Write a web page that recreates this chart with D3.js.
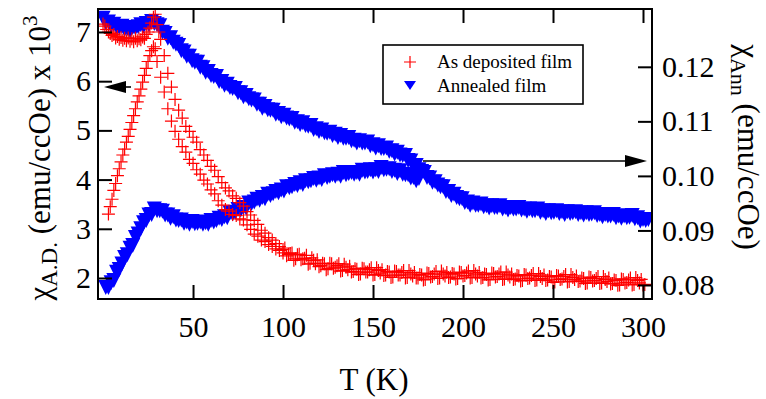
<!DOCTYPE html>
<html><head><meta charset="utf-8">
<script src="https://cdn.jsdelivr.net/npm/d3@7"></script>
<style>
body{margin:0;background:#fff}
svg{display:block}
text{font-family:'Liberation Serif','Times New Roman',serif;fill:#000}
</style>
</head><body>
<svg id="c" width="766" height="399"></svg>
<script>
// ---------- data ----------
const xTicks = [50, 100, 150, 200, 250, 300];
const leftTicks = [2, 3, 4, 5, 6, 7];
const rightTicks = [0.08, 0.09, 0.10, 0.11, 0.12];
const legendLabels = ["As deposited film", "Annealed film"];
const xTitle = "T (K)";

// Annealed film, upper branch [T (K), chi (emu/ccOe)]  (right axis)
const annealedUpper = [
[0,.1292],[1.5,.1284],[3,.1285],[4.5,.1278],[6,.1281],[7.5,.1276],[9,.1275],[10.5,.1277],[12,.1271],[13.5,.1273],
[15,.1269],[16.5,.1275],[18,.1274],[19.5,.1276],[21,.1280],[22.5,.1277],[24,.1282],[25.5,.1280],[27,.1286],[28.5,.1282],
[30,.1280],[31.5,.1278],[33,.1266],[34.5,.1264],[36,.1255],[37.5,.1256],[39,.1248],[40.5,.1244],[42,.1242],[43.5,.1232],
[45,.1230],[46.5,.1222],[48,.1222],[49.5,.1214],[51,.1211],[52.5,.1211],[54,.1202],[55.5,.1201],[57,.1193],[58.5,.1194],
[60,.1187],[61.5,.1185],[63,.1185],[64.5,.1176],[66,.1176],[67.5,.1169],[69,.1171],[70.5,.1165],[72,.1163],[73.5,.1163],
[75,.1155],[76.5,.1155],[78,.1148],[79.5,.1150],[81,.1144],[82.5,.1142],[84,.1142],[85.5,.1134],[87,.1134],[88.5,.1127],
[90,.1130],[91.5,.1124],[93,.1123],[94.5,.1123],[96,.1116],[97.5,.1117],[99,.1111],[100.5,.1114],[102,.1109],[103.5,.1107],
[105,.1108],[106.5,.1101],[108,.1102],[109.5,.1097],[111,.1100],[112.5,.1095],[114,.1094],[115.5,.1095],[117,.1088],[118.5,.1089],
[120,.1084],[121.5,.1087],[123,.1082],[124.5,.1081],[126,.1083],[127.5,.1077],[129,.1079],[130.5,.1073],[132,.1077],[133.5,.1072],
[135,.1072],[136.5,.1073],[138,.1067],[139.5,.1068],[141,.1063],[142.5,.1067],[144,.1063],[145.5,.1063],[147,.1065],[148.5,.1058],
[150,.1060],[151.5,.1054],[153,.1058],[154.5,.1053],[156,.1053],[157.5,.1054],[159,.1048],[160.5,.1049],[162,.1043],[163.5,.1046],
[165,.1041],[166.5,.1040],[168,.1040],[169.5,.1031],[171,.1030],[172.5,.1021],[174,.1022],[175.5,.1014],[177,.1011],[178.5,.1009],
[180,.1000],[181.5,.0999],[183,.0991],[184.5,.0992],[186,.0986],[187.5,.0983],[189,.0983],[190.5,.0974],[192,.0974],[193.5,.0967],
[195,.0969],[196.5,.0963],[198,.0961],[199.5,.0961],[201,.0954],[202.5,.0955],[204,.0949],[205.5,.0953],[207,.0949],[208.5,.0949],
[210,.0951],[211.5,.0946],[213,.0948],[214.5,.0944],[216,.0948],[217.5,.0945],[219,.0945],[220.5,.0948],[222,.0942],[223.5,.0945],
[225,.0940],[226.5,.0945],[228,.0942],[229.5,.0942],[231,.0945],[232.5,.0940],[234,.0942],[235.5,.0938],[237,.0942],[238.5,.0939],
[240,.0939],[241.5,.0942],[243,.0936],[244.5,.0939],[246,.0934],[247.5,.0939],[249,.0935],[250.5,.0936],[252,.0939],[253.5,.0934],
[255,.0937],[256.5,.0932],[258,.0937],[259.5,.0934],[261,.0935],[262.5,.0937],[264,.0932],[265.5,.0935],[267,.0931],[268.5,.0935],
[270,.0932],[271.5,.0933],[273,.0935],[274.5,.0930],[276,.0932],[277.5,.0928],[279,.0932],[280.5,.0929],[282,.0929],[283.5,.0932],
[285,.0926],[286.5,.0929],[288,.0925],[289.5,.0929],[291,.0926],[292.5,.0927],[294,.0930],[295.5,.0924],[297,.0926],[298.5,.0920],
[300,.0923],[301.5,.0921],[303,.0923]
];
// Annealed film, lower branch (right axis)
const annealedLower = [
[1.5,.0798],[3,.0798],[4.5,.0807],[6,.0811],[7.5,.0826],[9,.0831],[10.5,.0841],[12,.0853],[13.5,.0858],[15,.0870],
[16.5,.0875],[18,.0890],[19.5,.0896],[21,.0906],[22.5,.0917],[24,.0921],[25.5,.0931],[27,.0932],[28.5,.0942],[30,.0939],
[31.5,.0939],[33,.0938],[34.5,.0931],[36,.0931],[37.5,.0925],[39,.0928],[40.5,.0922],[42,.0921],[43.5,.0922],[45,.0916],
[46.5,.0918],[48,.0914],[49.5,.0919],[51,.0915],[52.5,.0916],[54,.0918],[55.5,.0914],[57,.0917],[58.5,.0914],[60,.0921],
[61.5,.0918],[63,.0921],[64.5,.0925],[66,.0923],[67.5,.0928],[69,.0926],[70.5,.0935],[72,.0933],[73.5,.0936],[75,.0941],
[76.5,.0940],[78,.0945],[79.5,.0944],[81,.0953],[82.5,.0952],[84,.0955],[85.5,.0960],[87,.0958],[88.5,.0963],[90,.0961],
[91.5,.0969],[93,.0967],[94.5,.0970],[96,.0974],[97.5,.0972],[99,.0977],[100.5,.0975],[102,.0983],[103.5,.0981],[105,.0983],
[106.5,.0987],[108,.0985],[109.5,.0990],[111,.0987],[112.5,.0994],[114,.0992],[115.5,.0994],[117,.0998],[118.5,.0995],[120,.0999],
[121.5,.0996],[123,.1003],[124.5,.1000],[126,.1002],[127.5,.1005],[129,.1002],[130.5,.1006],[132,.1002],[133.5,.1009],[135,.1005],
[136.5,.1007],[138,.1009],[139.5,.1006],[141,.1009],[142.5,.1006],[144,.1013],[145.5,.1010],[147,.1011],[148.5,.1014],[150,.1010],
[151.5,.1014],[153,.1011],[154.5,.1018],[156,.1014],[157.5,.1015],[159,.1016],[160.5,.1011],[162,.1013],[163.5,.1007],[165,.1012],
[166.5,.1006],[168,.1005],[169.5,.1005],[171,.0999],[172.5,.1000],[174,.0994],[175.5,.0998]
];
// As deposited film, upper branch [T, chi x 10^3] (left axis)
const depositedUpper = [
[0,7.16],[1,7.12],[2,7.05],[3,7.00],[4,6.97],[5,6.93],[6,6.95],[7,6.88],[8,6.91],[9,6.85],
[10,6.89],[11,6.83],[12,6.87],[13,6.82],[14,6.88],[15,6.81],[16,6.86],[17,6.80],[18,6.87],[19,6.82],
[20,6.86],[21,6.84],[22,6.90],[23,6.87],[24,6.95],[25,7.00],[26,7.08],[27,7.18],[28,7.30],[29,7.36],[30,7.15],[31,7.00],
[32,6.85],[34,6.52],[36,6.16],[38,5.88],[40,5.63],[42,5.41],[44,5.25],[46,5.08],[48,4.98],[50,4.86],
[52,4.76],[54,4.61],[56,4.50],[58,4.39],[60,4.27],[62,4.19],[64,4.06],[66,3.94],[68,3.83],[70,3.77],
[72,3.67],[74,3.62],[76,3.53],[78,3.46],[80,3.35],[82,3.28],[84,3.17],[86,3.09],[88,2.97],[90,2.91],
[92,2.82],[94,2.77],[96,2.70],[98,2.64],[100,2.58],
[101,2.61],[103,2.48],[105,2.51],[107,2.39],[109,2.48],[111,2.39],[113,2.46],[115,2.30],[117,2.36],[119,2.37],
[121,2.25],[123,2.29],[125,2.19],[127,2.29],[129,2.22],[131,2.29],[133,2.15],[135,2.22],[137,2.24],[139,2.13],
[141,2.18],[143,2.08],[145,2.19],[147,2.12],[149,2.21],[151,2.07],[153,2.15],[155,2.17],[157,2.06],[159,2.12],
[161,2.02],[163,2.13],[165,2.06],[167,2.15],[169,2.01],[171,2.08],[173,2.11],[175,2.00],[177,2.06],[179,1.97],
[181,2.09],[183,2.03],[185,2.13],[187,2.00],[189,2.08],[191,2.11],[193,2.02],[195,2.08],[197,1.99],[199,2.11],
[201,2.05],[203,2.14],[205,2.01],[207,2.08],[209,2.11],[211,2.01],[213,2.07],[215,1.97],[217,2.09],[219,2.03],
[221,2.12],[223,1.98],[225,2.06],[227,2.08],[229,1.98],[231,2.04],[233,1.95],[235,2.06],[237,2.00],[239,2.09],
[241,1.96],[243,2.03],[245,2.06],[247,1.96],[249,2.02],[251,1.92],[253,2.04],[255,1.98],[257,2.07],[259,1.93],
[261,2.01],[263,2.04],[265,1.94],[267,1.99],[269,1.90],[271,2.01],[273,1.95],[275,2.03],[277,1.90],[279,1.97],
[281,2.00],[283,1.89],[285,1.95],[287,1.86],[289,1.97],[291,1.91],[293,2.00],[295,1.87],[297,1.95],[299,1.97],[301,1.87]
];
// As deposited film, lower branch (left axis)
const depositedLower = [
[3,3.30],[4,3.45],[5,3.60],[6,3.78],[7,3.92],[8,4.08],[9,4.22],[10,4.36],[11,4.50],[12,4.62],
[13,4.76],[14,4.88],[15,5.02],[16,5.16],[17,5.30],[18,5.44],[19,5.58],[20,5.70],[21,5.84],[22,5.98],
[23,6.12],[24,6.26],[25,6.40],[26,6.52],[27,6.62],[28,6.70],[29,6.66],
[30,6.40],[32,6.08],[34,5.78],[36,5.44],[38,5.19],[40,4.98],[42,4.82],[44,4.67],[46,4.56],[48,4.41],
[50,4.33],[52,4.20],[54,4.11],[56,3.99],[58,3.91],[60,3.79],[62,3.71],[64,3.57],[66,3.48],[68,3.39],
[70,3.36],[72,3.29],[74,3.27],[76,3.20],[78,3.18],[80,3.08],[82,2.99],[84,2.89],[86,2.85],[88,2.77],
[90,2.74],[92,2.68],[94,2.64],[96,2.59],[98,2.56],[100,2.51],
[102,2.45],[104,2.50],[106,2.36],[108,2.47],[110,2.37],[112,2.40],[114,2.28],[116,2.41],[118,2.29],[120,2.23],
[122,2.30],[124,2.17],[126,2.30],[128,2.20],[130,2.25],[132,2.14],[134,2.28],[136,2.17],[138,2.12],[140,2.19],
[142,2.07],[144,2.20],[146,2.12],[148,2.17],[150,2.06],[152,2.21],[154,2.10],[156,2.05],[158,2.13],[160,2.01],
[162,2.14],[164,2.06],[166,2.11],[168,2.00],[170,2.15],[172,2.04],[174,2.00],[176,2.07],[178,1.96],[180,2.10],
[182,2.02],[184,2.08],[186,1.99],[188,2.14],[190,2.04],[192,2.01],[194,2.09],[196,1.98],[198,2.12],[200,2.04],
[202,2.10],[204,2.00],[206,2.15],[208,2.04],[210,2.00],[212,2.08],[214,1.96],[216,2.10],[218,2.02],[220,2.08],
[222,1.97],[224,2.12],[226,2.02],[228,1.97],[230,2.05],[232,1.94],[234,2.07],[236,1.99],[238,2.05],[240,1.95],
[242,2.09],[244,1.99],[246,1.95],[248,2.03],[250,1.91],[252,2.05],[254,1.97],[256,2.03],[258,1.92],[260,2.07],
[262,1.97],[264,1.93],[266,2.00],[268,1.89],[270,2.02],[272,1.94],[274,1.99],[276,1.89],[278,2.03],[280,1.93],
[282,1.88],[284,1.96],[286,1.85],[288,1.98],[290,1.90],[292,1.96],[294,1.86],[296,2.01],[298,1.90],[300,1.86]
];

// ---------- layout ----------
const L = 98, R = 652, T = 9, B = 299;
const svg = d3.select("#c");
const x = d3.scaleLinear().domain([-2.8, 305]).range([L, R]);
const yL = d3.scaleLinear().domain([1.573, 7.467]).range([B, T]);
const yR = d3.scaleLinear().domain([0.07743, 0.1306]).range([B, T]);

svg.append("defs").append("clipPath").attr("id", "clip")
  .append("rect").attr("x", L).attr("y", T).attr("width", R - L).attr("height", B - T);

const plot = svg.append("g").attr("clip-path", "url(#clip)");
const tri = "M-7.5,-6L7.5,-6L0,9Z";
const cross = "M-6.5,0H6.5M0,-6.5V6.5";

[annealedUpper, annealedLower].forEach(s => {
  plot.append("g").selectAll("path").data(s).join("path")
    .attr("d", tri).attr("fill", "#0000ff")
    .attr("transform", d => `translate(${x(d[0])},${yR(d[1])})`);
});
[depositedLower, depositedUpper].forEach(s => {
  plot.append("g").selectAll("path").data(s).join("path")
    .attr("d", cross).attr("fill", "none").attr("stroke", "#ff0000").attr("stroke-width", 1.2)
    .attr("transform", d => `translate(${x(d[0])},${yL(d[1])})`);
});

// ---------- axes ----------
const fs = 30;
function style(g) {
  g.select(".domain").remove();
  g.selectAll(".tick line").attr("stroke", "#000").attr("stroke-width", 2);
  g.selectAll(".tick text").attr("font-size", fs).attr("font-family", "'Liberation Serif','Times New Roman',serif").attr("fill", "#000");
}
svg.append("g").attr("transform", `translate(0,${B})`)
  .call(d3.axisBottom(x).tickValues(xTicks).tickSize(-14).tickPadding(17).tickFormat(d3.format("d"))).call(style);
svg.append("g").attr("transform", `translate(0,${T})`)
  .call(d3.axisTop(x).tickValues(xTicks).tickSize(-14).tickFormat("")).call(style);
svg.append("g").attr("transform", `translate(${L},0)`)
  .call(d3.axisLeft(yL).tickValues(leftTicks).tickSize(-14).tickPadding(7).tickFormat(d3.format("d"))).call(style);
svg.append("g").attr("transform", `translate(${R},0)`)
  .call(d3.axisRight(yR).tickValues(rightTicks).tickSize(-14).tickPadding(10).tickFormat(d3.format(".2f"))).call(style);

svg.append("rect").attr("x", L).attr("y", T).attr("width", R - L).attr("height", B - T)
  .attr("fill", "none").attr("stroke", "#000").attr("stroke-width", 2);

// axis titles
svg.append("text").attr("x", (L + R) / 2 - 1).attr("y", 390).attr("text-anchor", "middle")
  .attr("font-size", 31).text(xTitle);

const lt = svg.append("text").attr("transform", "translate(50,158) rotate(-90)")
  .attr("text-anchor", "middle").attr("font-size", 31);
lt.append("tspan").text("χ");
lt.append("tspan").attr("font-size", 23).attr("dy", 7).text("A.D.");
lt.append("tspan").attr("dy", -7).text(" (emu/ccOe) x 10");
lt.append("tspan").attr("font-size", 21).attr("dy", -13).text("3");

const rt = svg.append("text").attr("transform", "translate(738,147) rotate(90)")
  .attr("text-anchor", "middle").attr("font-size", 31);
rt.append("tspan").text("χ");
rt.append("tspan").attr("font-size", 22).attr("dy", 7).text("Ann");
rt.append("tspan").attr("dy", -7).text(" (emu/ccOe)");

// arrows
function arrow(x1, x2, y) {
  const dir = Math.sign(x2 - x1), head = 22, hw = 6;
  svg.append("line").attr("x1", x1).attr("x2", x2 - dir * head + dir).attr("y1", y).attr("y2", y)
    .attr("stroke", "#000").attr("stroke-width", 1.6);
  svg.append("path").attr("d", `M${x2},${y}L${x2 - dir * head},${y - hw}L${x2 - dir * head},${y + hw}Z`).attr("fill", "#000");
}
arrow(131, 104, 87);
arrow(423, 647, 161);

// legend
const lg = svg.append("g");
lg.append("rect").attr("x", 383).attr("y", 45).attr("width", 200).attr("height", 59)
  .attr("fill", "#fff").attr("stroke", "#000").attr("stroke-width", 1.6);
lg.append("path").attr("d", "M-6,0H6M0,-6V6").attr("transform", "translate(410,62)")
  .attr("stroke", "#ff0000").attr("stroke-width", 1.2).attr("fill", "none");
lg.append("path").attr("d", "M-6,-4L6,-4L0,5Z").attr("transform", "translate(410,85)").attr("fill", "#0000ff");
legendLabels.forEach((t, i) => {
  lg.append("text").attr("x", 437).attr("y", 68 + i * 23.5).attr("font-size", 19).text(t);
});
</script>
</body></html>
